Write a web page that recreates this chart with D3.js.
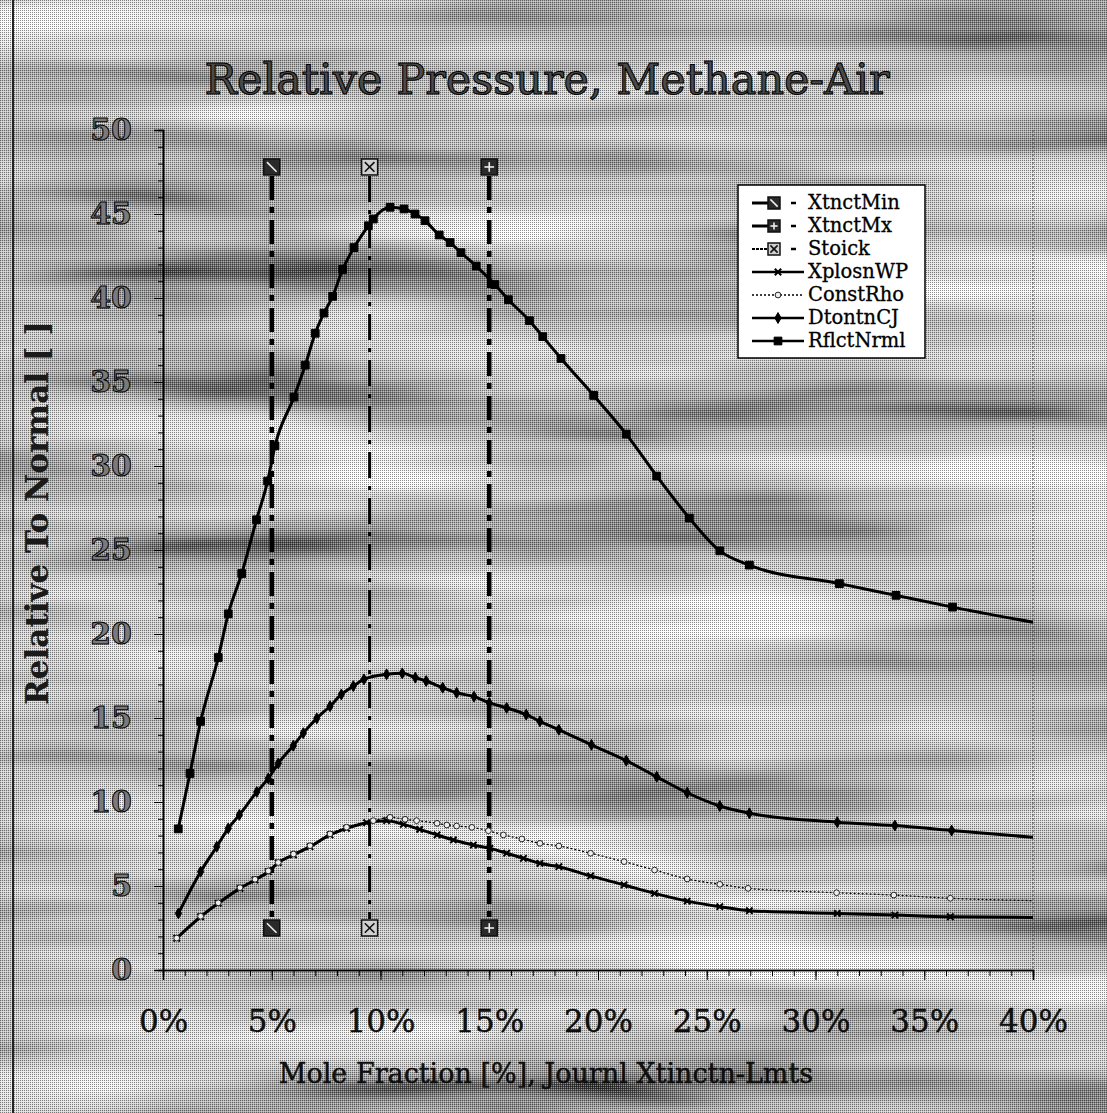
<!DOCTYPE html>
<html>
<head>
<meta charset="utf-8">
<script src="https://cdn.jsdelivr.net/npm/d3@7"></script>
<style>
  body { margin: 0; background: #fff; }
  svg { display: block; }
</style>
</head>
<body>
<div id="chart"></div>
<script>
const width = 1107, height = 1113;
const xLeft = 163, xRight = 1033, yTop = 130, yBottom = 970;
const serif = "'DejaVu Serif', 'Liberation Serif', serif";

// [mole fraction %, relative pressure]
const rflctNrml = [
  [0.7, 8.4], [1.24, 11.7], [1.73, 14.8], [2.54, 18.6], [3.0, 21.2], [3.62, 23.6],
  [4.3, 26.8], [4.81, 29.1], [5.15, 31.2], [6.02, 34.1], [6.54, 36.0], [7.0, 37.9],
  [7.4, 39.1], [7.8, 40.1], [8.26, 41.7], [8.78, 43.0], [9.44, 44.3], [9.67, 44.7],
  [10.44, 45.4], [11.08, 45.3], [11.59, 45.0], [12.05, 44.6], [12.7, 43.75], [13.2, 43.3],
  [13.7, 42.7], [14.4, 41.9], [15.26, 40.8], [15.88, 39.9], [16.85, 38.65], [17.46, 37.7],
  [18.3, 36.4], [19.8, 34.2], [21.3, 31.9], [22.7, 29.4], [24.2, 26.9], [25.6, 24.95],
  [26.96, 24.1], [31.1, 23.0], [33.7, 22.3], [36.3, 21.6], [40.0, 20.7]
];
const dtontnCJ = [
  [0.71, 3.37], [1.73, 5.85], [2.47, 7.34], [3.0, 8.43], [3.51, 9.23], [4.31, 10.6],
  [4.84, 11.4], [5.3, 12.3], [5.99, 13.35], [6.45, 14.1], [7.07, 14.98], [7.68, 15.7],
  [8.2, 16.4], [8.75, 16.9], [9.24, 17.3], [10.28, 17.6], [11.0, 17.66], [11.6, 17.4],
  [12.1, 17.2], [12.86, 16.8], [13.5, 16.5], [14.3, 16.27], [15.0, 15.9], [15.8, 15.6],
  [16.7, 15.2], [17.33, 14.8], [18.2, 14.3], [19.7, 13.4], [21.3, 12.46], [22.7, 11.5],
  [24.1, 10.55], [25.6, 9.76], [26.96, 9.33], [31.0, 8.8], [33.65, 8.6], [36.26, 8.3],
  [40.0, 7.9]
];
const xplosnWP = [
  [0.63, 1.89], [1.73, 3.17], [2.54, 3.97], [3.54, 4.86], [4.23, 5.36], [4.84, 5.85],
  [5.3, 6.39], [6.0, 6.85], [6.76, 7.34], [7.68, 8.04], [8.44, 8.43], [9.36, 8.77],
  [10.28, 8.89], [11.05, 8.67], [11.8, 8.37], [12.6, 8.04], [13.35, 7.74], [14.27, 7.44],
  [15.03, 7.24], [15.8, 6.95], [16.57, 6.65], [17.33, 6.35], [18.2, 6.15], [19.66, 5.6],
  [21.2, 5.06], [22.6, 4.56], [24.1, 4.1], [25.6, 3.77], [26.96, 3.53], [31.0, 3.37],
  [33.65, 3.27], [36.2, 3.17], [40.0, 3.13]
];
const constRho = [
  [0.63, 1.9], [1.73, 3.2], [2.54, 4.0], [3.54, 4.9], [4.23, 5.4], [4.84, 5.9],
  [5.3, 6.4], [6.0, 6.9], [6.76, 7.4], [7.68, 8.1], [8.44, 8.5], [9.67, 8.89],
  [10.44, 9.09], [11.13, 8.97], [11.66, 8.89], [12.6, 8.73], [13.05, 8.63], [13.5, 8.57],
  [14.2, 8.49], [14.96, 8.29], [15.65, 8.04], [16.5, 7.8], [17.33, 7.54], [18.2, 7.38],
  [19.66, 6.95], [21.2, 6.45], [22.6, 5.95], [24.1, 5.42], [25.6, 5.1], [26.9, 4.86],
  [30.97, 4.6], [33.6, 4.46], [36.2, 4.27], [40.0, 4.13]
];

// extinction limits (journal) and stoichiometric fraction
const limitNames = ["XtnctMin", "XtnctMx", "Stoick"];
const limitPct = [5, 15, 9.5];
const limitLow = 2.5, limitHigh = 47.8;

const legendNames = ["XtnctMin", "XtnctMx", "Stoick", "XplosnWP", "ConstRho", "DtontnCJ", "RflctNrml"];
const xTicks = [0, 5, 10, 15, 20, 25, 30, 35, 40];
const yTicks = [0, 5, 10, 15, 20, 25, 30, 35, 40, 45, 50];

const titleText = "Relative Pressure, Methane-Air";
const xTitle = "Mole Fraction [%], Journl Xtinctn-Lmts";
const yTitle = "Relative To Normal [ ]";

const x = d3.scaleLinear().domain([0, 40]).range([xLeft, xRight]);
const y = d3.scaleLinear().domain([0, 50]).range([yBottom, yTop]);

const svg = d3.select("#chart").append("svg")
  .attr("width", width).attr("height", height);

const defs = svg.append("defs");
const f = defs.append("filter").attr("id", "streaks")
  .attr("x", 0).attr("y", 0).attr("width", "100%").attr("height", "100%");
f.append("feTurbulence").attr("type", "fractalNoise")
  .attr("baseFrequency", "0.0022 0.016").attr("numOctaves", 3).attr("seed", 4);
f.append("feColorMatrix").attr("type", "matrix")
  .attr("values", "1.5 0 0 0 -0.17  1.5 0 0 0 -0.17  1.5 0 0 0 -0.17  0 0 0 0 1");

const pat = defs.append("pattern").attr("id", "halftone")
  .attr("width", 2).attr("height", 2).attr("patternUnits", "userSpaceOnUse");
pat.append("rect").attr("x", 0).attr("y", 0).attr("width", 1).attr("height", 1).attr("fill", "#000").attr("opacity", 0.45);
pat.append("rect").attr("x", 1).attr("y", 1).attr("width", 1).attr("height", 1).attr("fill", "#fff").attr("opacity", 0.4);

// paper background
svg.append("rect").attr("width", width).attr("height", height).attr("filter", "url(#streaks)");
svg.append("rect").attr("width", width).attr("height", height).attr("fill", "url(#halftone)");
svg.append("line").attr("x1", 13).attr("x2", 13).attr("y1", 0).attr("y2", height)
  .attr("stroke", "#222").attr("stroke-width", 2);

// title
svg.append("text")
  .attr("x", 547).attr("y", 94)
  .attr("text-anchor", "middle")
  .style("font-family", serif).style("font-size", "43px")
  .attr("fill", "#4a4a4a").attr("stroke", "#000").attr("stroke-width", 1.1)
  .text(titleText);

// faint plot edge on the right
svg.append("line")
  .attr("x1", xRight).attr("x2", xRight).attr("y1", yTop).attr("y2", yBottom)
  .attr("stroke", "#555").attr("stroke-width", 1).attr("stroke-dasharray", "2,2");

// axes
const yMinor = d3.axisLeft(y).tickValues(d3.range(0, 51, 1)).tickSize(5).tickFormat("");
const yMajor = d3.axisLeft(y).tickValues(yTicks).tickSize(9).tickPadding(22);
const xMinor = d3.axisBottom(x).tickValues(d3.range(0, 41, 1)).tickSize(6).tickFormat("");
const xMajor = d3.axisBottom(x).tickValues(xTicks).tickSize(10).tickPadding(30).tickFormat(d => d + "%");

const gy = svg.append("g").attr("transform", `translate(${xLeft},0)`);
gy.append("g").call(yMinor);
gy.append("g").call(yMajor);
gy.selectAll(".domain").attr("stroke", "#000").attr("stroke-width", 1.5);
gy.selectAll("line").attr("stroke", "#000");
gy.selectAll("text")
  .style("font-family", serif).style("font-size", "30px").style("font-weight", "bold")
  .attr("fill", "#7a7a7a").attr("stroke", "#000").attr("stroke-width", 1);

const gx = svg.append("g").attr("transform", `translate(0,${yBottom})`);
gx.append("g").call(xMinor);
gx.append("g").call(xMajor);
gx.selectAll(".domain").attr("stroke", "#000").attr("stroke-width", 1.5);
gx.selectAll("line").attr("stroke", "#000");
gx.selectAll("text")
  .style("font-family", serif).style("font-size", "31px")
  .attr("fill", "#111").attr("stroke", "#000").attr("stroke-width", 0.4);

svg.append("text")
  .attr("x", 546).attr("y", 1083)
  .attr("text-anchor", "middle")
  .style("font-family", serif).style("font-size", "27px")
  .attr("fill", "#111").attr("stroke", "#000").attr("stroke-width", 0.4)
  .text(xTitle);

svg.append("text")
  .attr("transform", "translate(48,513) rotate(-90)")
  .attr("text-anchor", "middle")
  .style("font-family", serif).style("font-size", "31px").style("font-weight", "bold")
  .attr("fill", "#1a1a1a")
  .text(yTitle);

// vertical limit lines
const limitDash = { XtnctMin: "24,7,6,7", XtnctMx: "24,7,6,7", Stoick: "26,8,4,8" };
const limitWidth = { XtnctMin: 4.5, XtnctMx: 4.5, Stoick: 3 };

function limitMarker(g, name, cx, cy, s) {
  const h = s / 2;
  const light = name === "Stoick";
  g.append("rect").attr("x", cx - h).attr("y", cy - h).attr("width", s).attr("height", s)
    .attr("fill", light ? "#d0d0d0" : "#2a2a2a").attr("stroke", "#111").attr("stroke-width", 1.5);
  const ink = light ? "#111" : "#eee";
  const k = h * 0.6;
  if (name === "XtnctMin") {
    g.append("line").attr("x1", cx - k).attr("y1", cy - k).attr("x2", cx + k).attr("y2", cy + k)
      .attr("stroke", ink).attr("stroke-width", 1.6);
  } else if (name === "XtnctMx") {
    g.append("line").attr("x1", cx - k).attr("y1", cy).attr("x2", cx + k).attr("y2", cy)
      .attr("stroke", ink).attr("stroke-width", 1.6);
    g.append("line").attr("x1", cx).attr("y1", cy - k).attr("x2", cx).attr("y2", cy + k)
      .attr("stroke", ink).attr("stroke-width", 1.6);
  } else {
    g.append("line").attr("x1", cx - k).attr("y1", cy - k).attr("x2", cx + k).attr("y2", cy + k)
      .attr("stroke", ink).attr("stroke-width", 1.6);
    g.append("line").attr("x1", cx - k).attr("y1", cy + k).attr("x2", cx + k).attr("y2", cy - k)
      .attr("stroke", ink).attr("stroke-width", 1.6);
  }
}

const limits = limitNames.map((n, i) => ({ name: n, pct: limitPct[i] }));
const gl = svg.append("g");
limits.forEach(d => {
  gl.append("line")
    .attr("x1", x(d.pct)).attr("x2", x(d.pct))
    .attr("y1", y(limitHigh) + 9).attr("y2", y(limitLow) - 9)
    .attr("stroke", "#000").attr("stroke-width", limitWidth[d.name])
    .attr("stroke-dasharray", limitDash[d.name]);
  limitMarker(gl, d.name, x(d.pct), y(limitHigh), 16);
  limitMarker(gl, d.name, x(d.pct), y(limitLow), 16);
});

// curves
const line = d3.line().x(d => x(d[0])).y(d => y(d[1])).curve(d3.curveMonotoneX);

const series = [
  { name: "XplosnWP", data: xplosnWP, width: 3, dash: null, sym: d3.symbolTimes, size: 28, fill: "none", stroke: "#000" },
  { name: "ConstRho", data: constRho, width: 1.3, dash: "2,2", sym: d3.symbolCircle, size: 26, fill: "#eee", stroke: "#222" },
  { name: "DtontnCJ", data: dtontnCJ, width: 3, dash: null, sym: d3.symbolDiamond, size: 34, fill: "#000", stroke: "#000" },
  { name: "RflctNrml", data: rflctNrml, width: 3, dash: null, sym: d3.symbolSquare, size: 60, fill: "#000", stroke: "#000" }
];

series.forEach(s => {
  svg.append("path")
    .datum(s.data)
    .attr("d", line)
    .attr("fill", "none")
    .attr("stroke", "#000")
    .attr("stroke-width", s.width)
    .attr("stroke-dasharray", s.dash);
  svg.append("g").selectAll("path")
    .data(s.data.slice(0, -1))
    .enter().append("path")
      .attr("transform", d => `translate(${x(d[0])},${y(d[1])})`)
      .attr("d", d3.symbol().type(s.sym).size(s.size))
      .attr("fill", s.fill)
      .attr("stroke", s.stroke)
      .attr("stroke-width", s.sym === d3.symbolTimes ? 2 : 1);
});

// legend
const lg = svg.append("g");
lg.append("rect").attr("x", 738).attr("y", 185).attr("width", 187).attr("height", 173)
  .attr("fill", "#fff").attr("stroke", "#000").attr("stroke-width", 1.5);

legendNames.forEach((n, i) => {
  const ly = 203 + i * 23;
  if (i < 3) {
    lg.append("line").attr("x1", 752).attr("x2", 768).attr("y1", ly).attr("y2", ly)
      .attr("stroke", "#000").attr("stroke-width", n === "Stoick" ? 2 : 3)
      .attr("stroke-dasharray", n === "Stoick" ? "3,1" : null);
    limitMarker(lg, n, 774, ly, 12);
    lg.append("line").attr("x1", 791).attr("x2", 796).attr("y1", ly).attr("y2", ly)
      .attr("stroke", "#000").attr("stroke-width", 2.5);
  } else {
    const s = series.find(e => e.name === n);
    lg.append("line").attr("x1", 752).attr("x2", 804).attr("y1", ly).attr("y2", ly)
      .attr("stroke", "#000").attr("stroke-width", s.width === 3 ? 2.5 : 1.3)
      .attr("stroke-dasharray", s.dash);
    lg.append("path")
      .attr("transform", `translate(778,${ly})`)
      .attr("d", d3.symbol().type(s.sym).size(s.size))
      .attr("fill", s.fill).attr("stroke", s.stroke)
      .attr("stroke-width", s.sym === d3.symbolTimes ? 2 : 1);
  }
  lg.append("text")
    .attr("x", 808).attr("y", ly + 6)
    .style("font-family", serif).style("font-size", "19.5px")
    .attr("fill", "#000").attr("stroke", "#000").attr("stroke-width", 0.3)
    .text(n);
});
</script>
</body>
</html>
